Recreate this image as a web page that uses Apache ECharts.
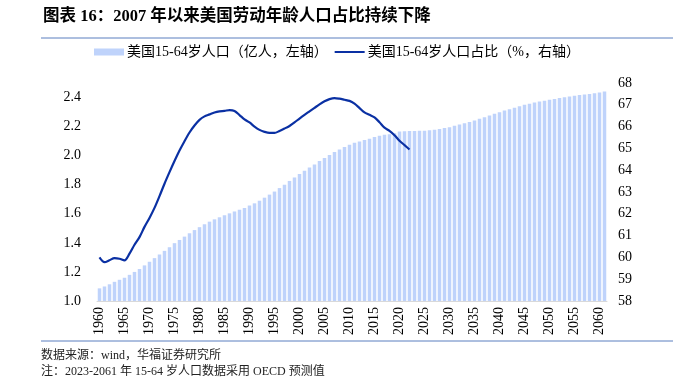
<!DOCTYPE html>
<html><head><meta charset="utf-8">
<script src="https://cdn.jsdelivr.net/npm/echarts@6/dist/echarts.min.js"></script>
<style>html,body{margin:0;padding:0;background:#fff;}#c{width:673px;height:382px;}</style>
</head><body><div id="c"></div>
<script>
var years = [];
for (var y = 1960; y <= 2061; y++) years.push(String(y));

var popValues = [
1.087,1.100,1.115,1.132,1.146,1.160,1.180,1.200,1.220,1.245,
1.270,1.295,1.320,1.345,1.370,1.398,1.420,1.443,1.466,1.488,
1.508,1.528,1.546,1.562,1.576,1.590,1.603,1.616,1.628,1.640,
1.657,1.672,1.690,1.711,1.732,1.753,1.777,1.800,1.826,1.850,
1.874,1.897,1.918,1.940,1.963,1.984,2.004,2.025,2.043,2.060,
2.075,2.089,2.098,2.107,2.117,2.128,2.137,2.144,2.148,2.155,
2.167,2.168,2.169,2.170,2.171,2.172,2.175,2.179,2.184,2.190,
2.196,2.205,2.214,2.223,2.232,2.242,2.254,2.265,2.277,2.288,
2.299,2.310,2.320,2.330,2.340,2.350,2.358,2.365,2.372,2.378,
2.384,2.390,2.396,2.402,2.407,2.412,2.417,2.421,2.425,2.430,
2.434,2.441];

var shareValues = [
60.0,59.78,59.87,59.97,59.94,59.86,60.17,60.58,60.93,61.4,
61.81,62.27,62.81,63.38,63.91,64.42,64.9,65.33,65.73,66.05,
66.31,66.47,66.56,66.65,66.7,66.72,66.76,66.72,66.53,66.33,
66.19,66.0,65.85,65.76,65.71,65.71,65.8,65.91,66.03,66.19,
66.37,66.54,66.7,66.86,67.02,67.16,67.26,67.31,67.28,67.23,
67.18,67.05,66.85,66.65,66.54,66.42,66.2,65.95,65.8,65.6,
65.35,65.15,64.95];

var leftTicks = {min: 1.0, max: 2.5, interval: 0.2};
var rightTicks = {min: 58, max: 68, interval: 1};

var titleText = '图表 16：2007 年以来美国劳动年龄人口占比持续下降';
var sourceText = '数据来源：wind，华福证券研究所';
var noteText = '注：2023-2061 年 15-64 岁人口数据采用 OECD 预测值';
var popName = '美国15-64岁人口（亿人，左轴）';
var shareName = '美国15-64岁人口占比（%，右轴）';

var FONT = '"Liberation Serif", "Times New Roman", "Noto Sans CJK SC", serif';
var chart = echarts.init(document.getElementById('c'), null, {renderer: 'canvas'});
chart.setOption({
  animation: false,
  backgroundColor: '#fff',
  textStyle: {fontFamily: FONT},
  title: {
    text: titleText, left: 38, top: 3,
    textStyle: {fontFamily: FONT, fontSize: 16.5, fontWeight: 'bold', color: '#000'}
  },
  graphic: [
    {type: 'line', shape: {x1: 41, y1: 38, x2: 673, y2: 38}, style: {stroke: '#5a7fbf', lineWidth: 1}},
    {type: 'line', shape: {x1: 41, y1: 341, x2: 673, y2: 341}, style: {stroke: '#5a7fbf', lineWidth: 1}},
    {type: 'text', left: 41, top: 350, style: {text: sourceText, font: '12px ' + FONT, fill: '#222'}},
    {type: 'text', left: 41, top: 366, style: {text: noteText, font: '12px ' + FONT, fill: '#222'}}
  ],
  legend: {
    top: 40, left: 89, itemGap: 6, itemWidth: 30, itemHeight: 7,
    textStyle: {fontFamily: FONT, fontSize: 14, color: '#000', padding: [0,0,0,-2]},
    data: [{name: popName, icon: 'rect'}, {name: shareName, itemStyle: {opacity: 0}}]
  },
  grid: {left: 97, right: 66, top: 83, bottom: 81, containLabel: false},
  xAxis: {
    type: 'category', data: years, boundaryGap: true,
    axisLine: {lineStyle: {color: '#d9d9d9'}},
    axisTick: {interval: 4, lineStyle: {color: '#d9d9d9'}, length: 4},
    axisLabel: {interval: 4, rotate: 90, fontSize: 14, color: '#000', fontFamily: FONT, margin: 6}
  },
  yAxis: [
    {type: 'value', min: leftTicks.min, max: leftTicks.max, interval: leftTicks.interval,
     splitLine: {show: false}, axisLine: {show: false}, axisTick: {show: false},
     axisLabel: {showMaxLabel: false, fontSize: 14, color: '#000', fontFamily: FONT, margin: 16,
       formatter: function (v) { return v.toFixed(1); }}},
    {type: 'value', min: rightTicks.min, max: rightTicks.max, interval: rightTicks.interval,
     splitLine: {show: false}, axisLine: {show: false}, axisTick: {show: false},
     axisLabel: {fontSize: 14, color: '#000', fontFamily: FONT, margin: 11}}
  ],
  series: [
    {name: popName, type: 'bar', data: popValues, yAxisIndex: 0, barCategoryGap: '30%',
     itemStyle: {color: '#bfd3fb'}},
    {name: shareName, type: 'line', data: shareValues, yAxisIndex: 1, symbol: 'none', smooth: 0.3,
     lineStyle: {color: '#0a30a3', width: 2.2}, itemStyle: {color: '#0a30a3'}}
  ]
});
</script></body></html>
